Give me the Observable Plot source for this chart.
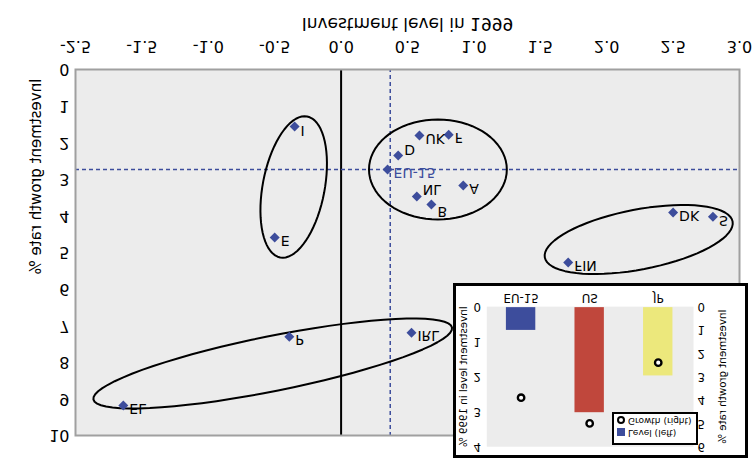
<!DOCTYPE html>
<html><head><meta charset="utf-8">
<script src="https://cdn.jsdelivr.net/npm/d3@7"></script>
<script src="https://cdn.jsdelivr.net/npm/@observablehq/plot@0.6"></script>
<style>
body{margin:0;background:#fff;font-family:"DejaVu Sans",sans-serif;}
#root{position:relative;width:753px;height:466px;transform:scaleY(-1);overflow:hidden;}
#main{position:absolute;left:0;top:0;}
#inset{position:absolute;left:453px;top:8px;width:295px;height:175px;box-sizing:border-box;border:3px solid #000;background:#fff;}
#inset svg{position:absolute;left:-3px;top:-3px;}
#legend{position:absolute;left:156px;top:10px;width:86px;height:33px;box-sizing:border-box;border:2px solid #000;background:#fff;font-size:9px;color:#000;}
.row{position:absolute;left:3px;display:flex;align-items:center;white-space:nowrap;line-height:11px;}
.sw{display:inline-block;width:8px;height:8px;margin-right:3px;box-sizing:border-box;}
</style></head><body>
<div id="root"><div id="main"></div><div id="inset"><div id="legend"></div></div></div>
<script>
// Main scatter data
const countries  = ["I","E","P","EL","IRL","UK","F","D","EU-15","A","NL","B","DK","S","FIN"];
const level1999  = [-0.35,-0.50,-0.39,-1.64,0.53,0.59,0.81,0.43,0.35,0.92,0.57,0.68,2.50,2.80,1.71];
const growthRate = [1.56,4.59,7.30,9.18,7.19,1.80,1.78,2.35,2.73,3.17,3.47,3.69,3.91,4.02,5.27];
const refLevel = 0.37, refGrowth = 2.73;
const xTickValues = [-2,-1.5,-1,-0.5,0,0.5,1,1.5,2,2.5,3];
const xTickLabels = ["-2.5","-1.5","-1.0","-0.5","0.0","0.5","1.0","1.5","2.0","2.5","3.0"];
const yTickValues = [0,1,2,3,4,5,6,7,8,9,10];
const xTitle = "Investment level in 1999";
const yTitle = "Investment growth rate %";
// Group ellipses (data units): centre, first and second semi-axis vectors
const ellCx = [-0.357, 0.729, 2.241, -0.515];
const ellCy = [3.21, 2.732, 4.645, 8.033];
const ellAx = [0.1015, 0.519, 0.707, 1.35];
const ellAy = [-1.926, 0, -0.492, -0.984];
const ellBx = [0.229, 0, 0.0424, 0.0407];
const ellBy = [0.159, 1.366, 0.805, 0.736];

// Inset data
const insetCats = ["EU-15","US","JP"];
const insetLevel = [0.65, 3.0, 1.95];
const insetGrowth = [3.9, 5.0, 2.4];
const insetColors = ["#3d4d9c","#c0473c","#ece87c"];
const levelTicks = [0,1,2,3,4];
const growthTicks = [0,1,2,3,4,5,6];
const insetLeftTitle = "Investment level in 1999 %";
const insetRightTitle = "Investment growth rate %";
const legendLabels = ["Level (left)","Growth (right)"];

const blue = "#3d4d9c";
const pts = countries.map((c,i)=>({name:c, x:level1999[i], y:growthRate[i]}));
const labelDy = {"D":6, "NL":7, "B":-7, "I":-4, "S":-4};
const ellPts = [];
ellCx.forEach((cx,k)=>{
  for (let j=0;j<72;j++){
    const t = j/72*2*Math.PI;
    ellPts.push({id:k, x: cx + Math.cos(t)*ellAx[k] + Math.sin(t)*ellBx[k],
                        y: ellCy[k] + Math.cos(t)*ellAy[k] + Math.sin(t)*ellBy[k]});
  }
});

const main = Plot.plot({
  width:753, height:466, marginLeft:75, marginRight:14, marginTop:30, marginBottom:70,
  style:{fontFamily:"'DejaVu Sans', sans-serif", fontSize:"16px", background:"transparent", color:"#000"},
  x:{domain:[-2,3], ticks:xTickValues, tickFormat:d=>xTickLabels[xTickValues.indexOf(d)], tickSize:0, tickPadding:17, label:null},
  y:{domain:[0,10], ticks:yTickValues, tickFormat:d=>String(d), tickSize:0, tickPadding:6, label:null},
  marks:[
    Plot.frame({fill:"#ececec", stroke:"none"}),
    Plot.ruleX([0], {stroke:"#000", strokeWidth:2}),
    Plot.ruleX([refLevel], {stroke:blue, strokeWidth:1.5, strokeDasharray:"4,3"}),
    Plot.ruleY([refGrowth], {stroke:blue, strokeWidth:1.5, strokeDasharray:"4,3"}),
    Plot.line(ellPts, {x:"x", y:"y", z:"id", stroke:"#000", strokeWidth:2, curve:"linear-closed"}),
    Plot.dot(pts, {x:"x", y:"y", symbol:"diamond2", r:4.5, fill:blue, stroke:"none"}),
    ...pts.map(p=>Plot.text([p], {x:"x", y:"y", text:"name", textAnchor:"start", dx:6,
        dy: labelDy[p.name] ?? -3, fontSize:14, fill: p.name==="EU-15" ? blue : "#000"})),
    Plot.text([xTitle], {text:d=>d, frameAnchor:"bottom", dy:52, fontSize:17, textAnchor:"middle"}),
    Plot.text([yTitle], {text:d=>d, frameAnchor:"left", dx:-39, dy:76, rotate:-90, fontSize:15, textAnchor:"middle"}),
    Plot.frame({stroke:"#a0a0a0", strokeWidth:2})
  ]
});
document.getElementById("main").appendChild(main);

const insetData = insetCats.map((c,i)=>({cat:c, level:insetLevel[i], growth:insetGrowth[i]}));
const gScale = 4/6;
const inset = Plot.plot({
  width:295, height:175, marginLeft:34, marginRight:50, marginTop:11, marginBottom:21,
  style:{fontFamily:"'DejaVu Sans', sans-serif", fontSize:"12px", background:"transparent", color:"#000"},
  x:{type:"band", domain:insetCats, paddingInner:0.57, paddingOuter:0.285, tickSize:0, tickPadding:4, label:null},
  y:{domain:[0,4], ticks:levelTicks, tickFormat:d=>String(d), tickSize:0, tickPadding:6, label:null},
  color:{domain:insetCats, range:insetColors},
  marks:[
    Plot.frame({fill:"#ececec", stroke:"none"}),
    Plot.barY(insetData, {x:"cat", y:"level", fill:"cat"}),
    Plot.dot(insetData, {x:"cat", y:d=>d.growth*gScale, r:3.3, stroke:"#000", strokeWidth:2.4, fill:"#fff"}),
    Plot.text(growthTicks, {y:d=>d*gScale, text:d=>String(d), frameAnchor:"right", dx:4, textAnchor:"start", fontSize:12}),
    Plot.text([insetLeftTitle], {text:d=>d, frameAnchor:"left", dx:-24, rotate:-90, fontSize:10.5, textAnchor:"middle"}),
    Plot.text([insetRightTitle], {text:d=>d, frameAnchor:"right", dx:30, rotate:-90, fontSize:10.5, textAnchor:"middle"})
  ]
});
document.getElementById("inset").insertBefore(inset, document.getElementById("legend"));

const lg = document.getElementById("legend");
lg.innerHTML =
  `<div class="row" style="top:5px"><span class="sw" style="background:${insetColors[0]}"></span>${legendLabels[0]}</div>` +
  `<div class="row" style="top:17px"><span class="sw" style="border:2.4px solid #000;border-radius:50%;background:#fff"></span>${legendLabels[1]}</div>`;
</script>
</body></html>
